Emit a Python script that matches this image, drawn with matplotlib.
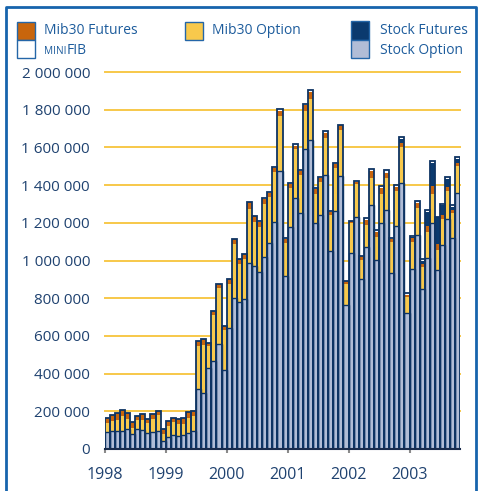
import matplotlib
matplotlib.use("Agg")
import matplotlib.pyplot as plt
from matplotlib.patches import Rectangle
from matplotlib.lines import Line2D
import numpy as np

plt.rcParams['font.family'] = ['Open Sans', 'DejaVu Sans']

# Monthly data, Jan 1998 - Oct 2003 (thousands of contracts)
years = ['1998', '1999', '2000', '2001', '2002', '2003']

stock_option = [88, 97, 94, 95, 106, 81, 106, 101, 87, 88, 97, 43,
                62, 73, 70, 72, 85, 95, 318, 296, 432, 468, 559, 420,
                641, 799, 782, 796, 985, 973, 941, 1017, 1091, 1206, 1475, 920,
                1180, 1333, 1250, 1592, 1639, 1197, 1241, 1452, 1050, 1263, 1450, 764,
                1042, 1233, 904, 1070, 1294, 1003, 1197, 1268, 932, 1183, 1409, 720,
                955, 1135, 847, 1012, 1197, 950, 1082, 1220, 1121, 1356]
mib30_option = [50, 52, 60, 78, 53, 30, 46, 55, 51, 69, 82, 37,
                61, 70, 64, 62, 80, 80, 226, 257, 112, 245, 295, 209,
                235, 289, 199, 214, 288, 233, 239, 283, 246, 262, 292, 175,
                203, 257, 202, 203, 218, 154, 175, 198, 191, 229, 242, 111,
                155, 171, 99, 118, 142, 123, 156, 168, 168, 187, 193, 86,
                145, 145, 120, 137, 156, 106, 138, 149, 129, 145]
mib30_futures = [25, 31, 35, 32, 30, 30, 21, 28, 21, 27, 21, 28,
                 28, 23, 23, 28, 29, 24, 27, 28, 18, 18, 22, 23,
                 25, 26, 27, 23, 36, 28, 23, 25, 23, 25, 26, 21,
                 25, 17, 25, 28, 35, 28, 23, 25, 18, 18, 25, 16,
                 11, 12, 19, 28, 40, 27, 30, 30, 14, 20, 21, 11,
                 18, 27, 13, 36, 42, 33, 21, 23, 18, 15]
stock_futures = [0] * 58 + [23, 0,
                            8, 0, 19, 74, 124, 140, 55, 42, 18, 24]
minifib = [0] * 30 + [7, 5, 6, 3, 9, 3,
                      2, 9, 3, 7, 13, 4, 6, 12, 4, 5, 3, 2,
                      2, 6, 2, 9, 9, 9, 11, 14, 4, 9, 9, 9,
                      2, 9, 9, 9, 9, 4, 4, 9, 8, 9]

W, H = 486, 491
fig = plt.figure(figsize=(W / 100, H / 100), dpi=100)

navy = '#0e3463'
c_so = '#b1bdd6'
c_mo = '#f8c94c'
c_mf = '#c8650c'
c_sf = '#0b3a6e'
c_mini = '#ffffff'
grid_c = '#f7c84a'
txt_c = '#1f4270'
leg_txt = '#1d5c9c'

ax = fig.add_axes([104.7 / W, (H - 449) / H, 355.6 / W, (449 - 72) / H])
n = len(stock_option)
x = np.arange(n) + 0.5
scale = 1000.0

so = np.array(stock_option) * scale
mo = np.array(mib30_option) * scale
mf = np.array(mib30_futures) * scale
sf = np.array(stock_futures) * scale
mn = np.array(minifib) * scale

bottom = np.zeros(n)
for vals, col in [(so, c_so), (mo, c_mo), (mf, c_mf), (sf, c_sf), (mn, c_mini)]:
    ax.bar(x, vals, width=1.0, bottom=bottom, color=col, linewidth=0, zorder=3)
    bottom = bottom + vals
# separator line on top of stock option segment
ax.bar(x, so, width=1.0, facecolor='none', edgecolor=navy, linewidth=1.0, zorder=4)
# outline of full bar
ax.bar(x, bottom, width=1.0, facecolor='none', edgecolor=navy, linewidth=1.3, zorder=5)

ax.set_xlim(0, n)
ax.set_ylim(0, 2_000_000)

yt = np.arange(0, 2_000_001, 200_000)
for v in yt[1:]:
    ax.axhline(v, color=grid_c, linewidth=1.4, zorder=1, clip_on=False)
ax.set_yticks(yt)
ax.set_yticklabels(['{:,}'.format(v).replace(',', ' ') for v in yt])
ax.tick_params(axis='y', length=0, pad=10.5, labelsize=11, labelcolor=txt_c)

ax.set_xticks(np.arange(0, 61, 12))
ax.set_xticklabels(years)
ax.tick_params(axis='x', length=3, width=1.5, color='#8a8a8a', pad=10,
               labelsize=11.5, labelcolor=txt_c)

for s in ['top', 'right', 'left']:
    ax.spines[s].set_visible(False)
ax.spines['bottom'].set_color('#1a2c4c')
ax.spines['bottom'].set_linewidth(1.5)
ax.spines['bottom'].set_zorder(6)

# figure frame
fc = '#1664ad'
def fx(px):
    return px / W
def fy(py):
    return 1 - py / H
fig.add_artist(Line2D([fx(6), fx(6), fx(476), fx(476)], [fy(495), fy(7), fy(7), fy(495)],
                      color=fc, linewidth=2.0, transform=fig.transFigure))

# legend
def sq(px0, py0, px1, py1, col):
    fig.add_artist(Rectangle((fx(px0), fy(py1)), (px1 - px0) / W, (py1 - py0) / H,
                             facecolor=col, edgecolor='#2466a8', linewidth=1.0,
                             transform=fig.transFigure))

sq(17, 22, 35, 40, c_mf)
sq(17, 40, 35, 58, c_mini)
sq(185, 22, 203, 40, c_mo)
sq(351, 21, 369, 40, c_sf)
sq(351, 40, 369, 58, c_so)

lfs = 10
fig.text(fx(44), fy(31), 'Mib30 Futures', fontsize=lfs, color=leg_txt, va='center', ha='left')
t_mini = fig.text(fx(44), fy(52), 'MINI', fontsize=7.2, color=leg_txt, va='center', ha='left')
fig.add_artist(plt.Annotation('FIB', xy=(1, 0), xycoords=t_mini, xytext=(0.3, 0),
                              textcoords='offset points', fontsize=lfs, color=leg_txt,
                              va='bottom', ha='left'))
fig.text(fx(212), fy(30), 'Mib30 Option', fontsize=lfs, color=leg_txt, va='center', ha='left')
fig.text(fx(380), fy(31), 'Stock Futures', fontsize=lfs, color=leg_txt, va='center', ha='left')
fig.text(fx(380), fy(51), 'Stock Option', fontsize=lfs, color=leg_txt, va='center', ha='left')

fig.savefig('out.png', dpi=100)
